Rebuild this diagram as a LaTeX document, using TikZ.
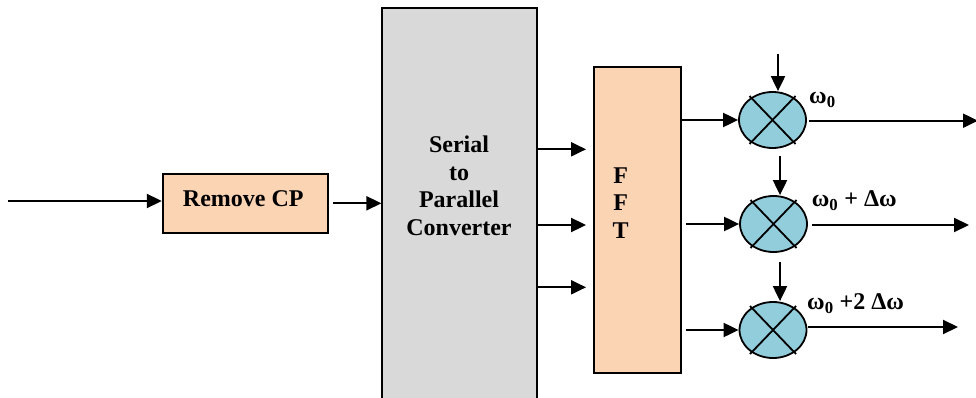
\documentclass[tikz,border=0pt]{standalone}
\usepackage{fontspec}
\setmainfont{Liberation Serif}
\usetikzlibrary{arrows.meta,shapes.geometric}
\definecolor{peach}{HTML}{FBD4B4}
\definecolor{greybox}{HTML}{D9D9D9}
\definecolor{aqua}{HTML}{92CDDC}
\tikzset{
  blk/.style={draw=black,line width=1.8pt,inner sep=0pt},
  lbl/.style={font=\fontsize{24}{27.4}\selectfont\bfseries,align=center,inner sep=0pt},
  mix/.style={draw=black,line width=1.8pt,ellipse,fill=aqua,minimum width=67pt,minimum height=56pt,inner sep=0pt},
  arr/.style={line width=2pt,-{Triangle[length=15pt,width=14pt]}},
  ln/.style={line width=1.8pt}
}
\begin{document}
\begin{tikzpicture}[x=1pt,y=-1pt]
\useasboundingbox (0,0) rectangle (976,398);
\begin{scope}
\clip (0,0) rectangle (976,398);
% blocks
\node[blk,fill=peach,minimum width=165.6pt,minimum height=58.7pt] (rcp) at (245.5,203.3) {};
\node[lbl,anchor=base] (rcptext) at (243.3,206.7) {Remove CP};
\node[blk,fill=greybox,minimum width=154.4pt,minimum height=410pt] (sp) at (459.5,213) {};
\node[lbl,anchor=base] (sptext) at (459,235) {Serial\\to\\Parallel\\Converter};
\node[blk,fill=peach,minimum width=86.7pt,minimum height=306.7pt] (fft) at (637.3,220) {};
\node[lbl,anchor=base,align=center] (ffttext) at (620.7,238) {F\\F\\T};
% mixers
\node[mix] (m1) at (772.5,120) {};
\node[mix] (m2) at (773.5,224) {};
\node[mix] (m3) at (773,330) {};
\foreach \m in {m1,m2,m3}{
  \draw[ln] (\m.center) ++(-23,-24) -- ++(46,48);
  \draw[ln] (\m.center) ++(23,-24) -- ++(-46,48);
}
% input
\coordinate (in) at (8,201);
\draw[arr] (in) -- (rcp.west |- in);
\draw[arr] (rcp.east) ++(4,0) coordinate (r1) -- (sp.west |- r1);
% S/P to FFT
\foreach \y in {149.3,225,287.3}{
  \draw[arr] (sp.east |- 0,\y) -- ([xshift=-7pt]fft.west |- 0,\y);
}
% FFT to mixers
\draw[arr] (fft.east |- m1.west) -- (m1.west);
\draw[arr] ([xshift=4pt]fft.east |- m2.west) -- (m2.west);
\draw[arr] ([xshift=4pt]fft.east |- m3.west) -- (m3.west);
% vertical carrier arrows
\coordinate (c1) at (778,54);
\coordinate (c2) at (780,156);
\coordinate (c3) at (780,262);
\draw[arr] (c1) -- (c1 |- m1.north);
\draw[arr] (c2) -- (c2 |- m2.north);
\draw[arr] (c3) -- (c3 |- m3.north);
% outputs
\coordinate (o1) at (978,120.7);
\coordinate (o2) at (969,225);
\coordinate (o3) at (958,327);
\draw[arr] ([xshift=2pt]m1.east |- o1) -- (o1);
\draw[arr] ([xshift=4pt]m2.east |- o2) -- (o2);
\draw[arr] ([xshift=1pt]m3.east |- o3) -- (o3);
% labels
\node[lbl,anchor=base west] (w1) at (809,104) {ω\textsubscript{0}};
\node[lbl,anchor=base west] (w2) at (811.7,206.7) {ω\textsubscript{0} + Δω};
\node[lbl,anchor=base west] (w3) at (807,309.3) {ω\textsubscript{0} +2 Δω};
\end{scope}
\end{tikzpicture}
\end{document}
